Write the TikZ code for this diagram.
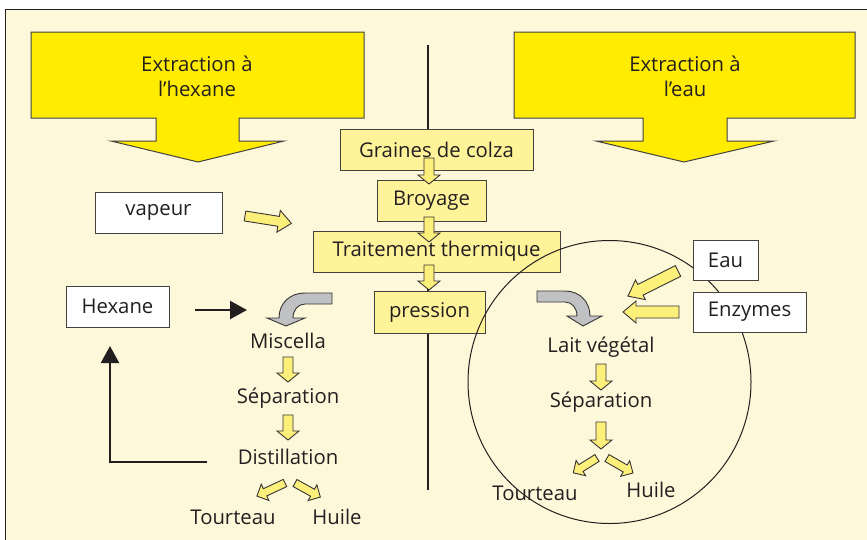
\documentclass[tikz,border=0pt]{standalone}
\usepackage{fontspec}
\setmainfont{Open Sans}
\usetikzlibrary{arrows.meta,calc}
\definecolor{cream}{HTML}{FEF8DA}
\definecolor{bigyel}{HTML}{FFEC00}
\definecolor{boxyel}{HTML}{FFF39A}
\definecolor{arryel}{HTML}{FCEF7A}
\definecolor{ink}{HTML}{231F20}
\definecolor{greyarr}{HTML}{BFC1C3}
\tikzset{
  txt/.style={font=\fontsize{20.3}{24}\selectfont, text=ink, inner sep=0pt},
  cbox/.style={txt, draw=ink!85, line width=1pt, fill=boxyel, minimum height=41pt},
  wbox/.style={txt, draw=ink!85, line width=1pt, fill=white, minimum height=41pt},
  bigarr/.style={draw=ink!85, line width=1pt, fill=bigyel},
  yarr/.style={draw=ink!90, line width=0.9pt, fill=arryel, line join=miter},
  garr/.style={draw=ink!90, line width=0.9pt, fill=greyarr},
  blk/.style={draw=ink, line width=2.2pt, -{Triangle[length=17pt,width=18pt]}}
}
% \yarrow{start}{angle}{length}{head length}{shaft half}{head half}
\newcommand\yarrow[6]{%
  \begin{scope}[shift={#1},rotate=#2]
    \path[yarr] (0pt,-#5pt) -- (#3pt-#4pt,-#5pt) -- (#3pt-#4pt,-#6pt) -- (#3pt,0pt)
      -- (#3pt-#4pt,#6pt) -- (#3pt-#4pt,#5pt) -- (0pt,#5pt) -- cycle;
  \end{scope}}
\begin{document}
\begin{tikzpicture}[x=1pt,y=-1pt]
\useasboundingbox (0,0) rectangle (867,539);
\fill[white] (0,0) rectangle (867,539);
\draw[fill=cream, draw=ink, line width=1pt] (5,9) rectangle (872,545);

% big arrows
\path[bigarr] (31,32) -- (364,32) -- (364,118) -- (239,118) -- (239,141) -- (284,141)
  -- (198,162) -- (111,141) -- (156,141) -- (156,118) -- (31,118) -- cycle;
\path[bigarr] (514,32) -- (855,32) -- (855,118) -- (727,118) -- (727,141) -- (774,141)
  -- (684,162) -- (596,141) -- (643,141) -- (643,118) -- (514,118) -- cycle;
\node[txt, align=center] (exhex) at (197,76.5) {Extraction à\\[1pt]l'hexane};
\node[txt, align=center] (exeau) at (685,76.5) {Extraction à\\[1pt]l'eau};

% central vertical line
\draw[ink, line width=1.8pt] (428,45) -- (428,490);

% central process boxes
\node[cbox, minimum width=193pt] (graines) at (436.5,149.5) {Graines de colza};
\node[cbox, minimum width=109pt] (broyage) at (431.5,200.5) {Broyage};
\node[cbox, minimum width=247pt] (traitement) at (436.5,251.5) {Traitement thermique};
\node[cbox, minimum width=111pt, minimum height=42pt] (pression) at (429.5,312) {pression};

\yarrow{(429,158)}{-90}{26}{9}{5}{11}
\yarrow{(429,217)}{-90}{25}{9}{5}{11}
\yarrow{(429,265)}{-90}{25}{9}{5}{11}

% circle (water extraction)
\draw[ink, line width=1pt] (609.5,382) circle[radius=141.5pt];

% side boxes
\node[wbox, minimum width=127pt] (vapeur) at (158.5,212.5) {vapeur};
\node[wbox, minimum width=103pt] (hexane) at (117.5,306.5) {Hexane};
\node[wbox, minimum width=65pt, minimum height=40pt] (eau) at (725.5,260) {Eau};
\node[wbox, minimum width=113pt, minimum height=40pt] (enzymes) at (749.5,312) {Enzymes};

\yarrow{(245,216)}{-9}{47}{13}{5}{11}
\yarrow{(678,271)}{-153.4}{56}{14}{6}{11}
\yarrow{(679,312)}{180}{56}{13}{6}{11}

% grey curved arrows
\path[garr] (332,293) -- (305,293) .. controls (290,293) and (279,303) .. (279,318)
  -- (267,318) -- (286,326) -- (305,318) -- (293,318)
  .. controls (293,310) and (298,304) .. (305,304) -- (332,304) -- cycle;
\path[garr] (537,291) -- (565,291) .. controls (580,291) and (590,302) .. (590,316)
  -- (602,316) -- (583,326) -- (567,316) -- (577,316)
  .. controls (577,308) and (572,302) .. (565,302) -- (537,302) -- cycle;

% left column (hexane)
\node[txt] (miscella) at (288,341) {Miscella};
\node[txt] (sepl) at (288,398) {Séparation};
\node[txt] (distil) at (288,457) {Distillation};
\node[txt] (tourl) at (233,517) {Tourteau};
\node[txt] (huilel) at (337,517) {Huile};
\yarrow{(288,357)}{-90}{25}{9}{5}{11}
\yarrow{(288,415)}{-90}{25}{9}{5}{11}
\yarrow{(285,483)}{-155}{31}{9}{4}{9}
\yarrow{(295,483)}{-29}{29}{9}{4}{9}

% right column (water)
\node[txt] (lait) at (601,347) {Lait végétal};
\node[txt] (sepr) at (601,402) {Séparation};
\node[txt] (tourr) at (535,493) {Tourteau};
\node[txt] (huiler) at (651,490) {Huile};
\yarrow{(601,364)}{-90}{26}{9}{5}{11}
\yarrow{(601,422)}{-90}{27}{9}{5}{11}
\yarrow{(597,458)}{-148}{28}{9}{4}{9}
\yarrow{(607,458)}{-30}{30}{9}{4}{9}

% black arrows
\coordinate (hexout) at ($(hexane.east)+(25,3.5)$);
\coordinate (hexin) at (247,310);
\draw[blk] (hexout) -- (hexin);
\coordinate (recstart) at (207,462);
\coordinate (recend) at (110,346);
\draw[draw=ink, line width=2.2pt] (recstart) -- (110,462) -- (110,360);
\draw[blk] (110,462) -- (recend);
\end{tikzpicture}
\end{document}
